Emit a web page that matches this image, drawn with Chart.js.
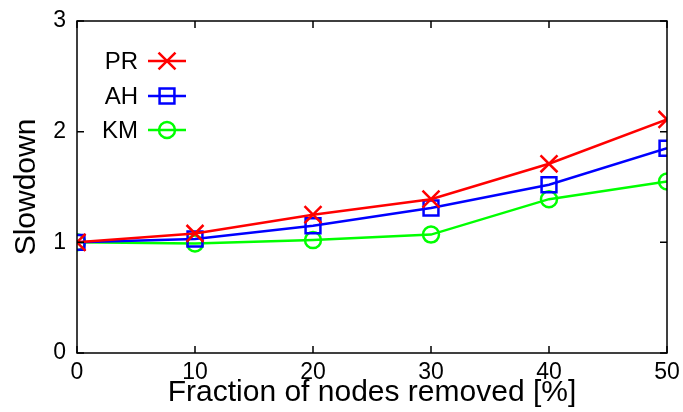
<!DOCTYPE html>
<html>
<head>
<meta charset="utf-8">
<script src="https://cdn.jsdelivr.net/npm/chart.js@4/dist/chart.umd.min.js"></script>
<style>
  html, body { margin: 0; padding: 0; background: #fff; }
  #wrap { width: 683px; height: 412px; }
</style>
</head>
<body>
<div id="wrap"><canvas id="slowdown"></canvas></div>
<script>
const fractions = [0, 10, 20, 30, 40, 50];
const prValues = [1.0, 1.08, 1.25, 1.39, 1.71, 2.11];
const ahValues = [1.0, 1.03, 1.15, 1.31, 1.52, 1.85];
const kmValues = [1.0, 0.99, 1.02, 1.07, 1.39, 1.55];
const xTicks = [0, 10, 20, 30, 40, 50];
const yTicks = [0, 1, 2, 3];

const FONT = '"Liberation Sans", Arial, Helvetica, sans-serif';
Chart.defaults.font.family = FONT;
Chart.defaults.color = "#000";

function pts(values) {
  return fractions.map((x, i) => ({ x: x, y: values[i] }));
}

// box round the plot with short ticks pointing inward on all four sides
const frameTicks = {
  id: "frameTicks",
  afterDraw(chart) {
    const { ctx, chartArea: a, scales } = chart;
    const len = 7;
    ctx.save();
    ctx.strokeStyle = "#000";
    ctx.lineWidth = 1.5;
    ctx.beginPath();
    xTicks.forEach(v => {
      const px = scales.x.getPixelForValue(v);
      ctx.moveTo(px, a.bottom); ctx.lineTo(px, a.bottom - len);
      ctx.moveTo(px, a.top); ctx.lineTo(px, a.top + len);
    });
    yTicks.forEach(v => {
      const py = scales.y.getPixelForValue(v);
      ctx.moveTo(a.left, py); ctx.lineTo(a.left + len, py);
      ctx.moveTo(a.right, py); ctx.lineTo(a.right - len, py);
    });
    ctx.stroke();
    ctx.strokeRect(a.left, a.top, a.right - a.left, a.bottom - a.top);
    ctx.restore();
  }
};

// gnuplot style key: label on the left, line sample with marker on the right
const insideKey = {
  id: "insideKey",
  afterDatasetsDraw(chart) {
    const { ctx } = chart;
    const textRight = 138, lineL = 148, lineR = 186;
    const rows = [61, 96, 130];
    ctx.save();
    ctx.font = "24px " + FONT;
    ctx.textAlign = "right";
    ctx.textBaseline = "middle";
    chart.data.datasets.forEach((ds, i) => {
      const y = rows[i];
      ctx.fillStyle = "#000";
      ctx.fillText(ds.label, textRight, y + 1);
      ctx.strokeStyle = ds.borderColor;
      ctx.lineWidth = ds.borderWidth;
      ctx.beginPath();
      ctx.moveTo(lineL, y); ctx.lineTo(lineR, y);
      ctx.stroke();
      ctx.fillStyle = "rgba(0,0,0,0)";
      ctx.lineWidth = ds.pointBorderWidth;
      Chart.helpers.drawPoint(ctx, {
        pointStyle: ds.pointStyle,
        radius: ds.pointRadius,
        borderWidth: ds.pointBorderWidth,
        rotation: 0
      }, (lineL + lineR) / 2, y);
    });
    ctx.restore();
  }
};

const series = [
  { label: "PR", values: prValues, color: "#ff0000", style: "crossRot", r: 12 },
  { label: "AH", values: ahValues, color: "#0000ff", style: "rect", r: 10.5 },
  { label: "KM", values: kmValues, color: "#00ff00", style: "circle", r: 8 }
];

new Chart(document.getElementById("slowdown"), {
  type: "line",
  data: {
    datasets: series.map(s => ({
      label: s.label,
      data: pts(s.values),
      borderColor: s.color,
      backgroundColor: "transparent",
      borderWidth: 2.5,
      pointStyle: s.style,
      pointRadius: s.r,
      pointBorderWidth: 2.5,
      pointBorderColor: s.color,
      pointBackgroundColor: "transparent",
      tension: 0
    }))
  },
  options: {
    responsive: true,
    maintainAspectRatio: false,
    animation: false,
    events: [],
    layout: { padding: { left: 0, right: 16, top: 21, bottom: 0 } },
    plugins: { legend: { display: false }, tooltip: { enabled: false } },
    scales: {
      x: {
        type: "linear",
        min: 0,
        max: 50,
        afterBuildTicks: s => { s.ticks = xTicks.map(v => ({ value: v })); },
        afterFit: s => { s.height = 59; s.paddingLeft = 0; s.paddingRight = 0; },
        grid: { display: false, drawTicks: false },
        border: { display: false },
        ticks: { font: { size: 23 }, padding: 6, color: "#000" },
        title: {
          display: true,
          text: "Fraction of nodes removed [%]",
          font: { size: 30 },
          padding: { top: 0, bottom: 1 },
          color: "#000"
        }
      },
      y: {
        min: 0,
        max: 3,
        afterBuildTicks: s => { s.ticks = yTicks.map(v => ({ value: v })); },
        afterFit: s => { s.width = 77; s.paddingTop = 0; s.paddingBottom = 0; },
        grid: { display: false, drawTicks: false },
        border: { display: false },
        ticks: { font: { size: 23 }, padding: 11, color: "#000" },
        title: {
          display: true,
          text: "Slowdown",
          font: { size: 30 },
          padding: { top: 9, bottom: 0 },
          color: "#000"
        }
      }
    }
  },
  plugins: [frameTicks, insideKey]
});
</script>
</body>
</html>
